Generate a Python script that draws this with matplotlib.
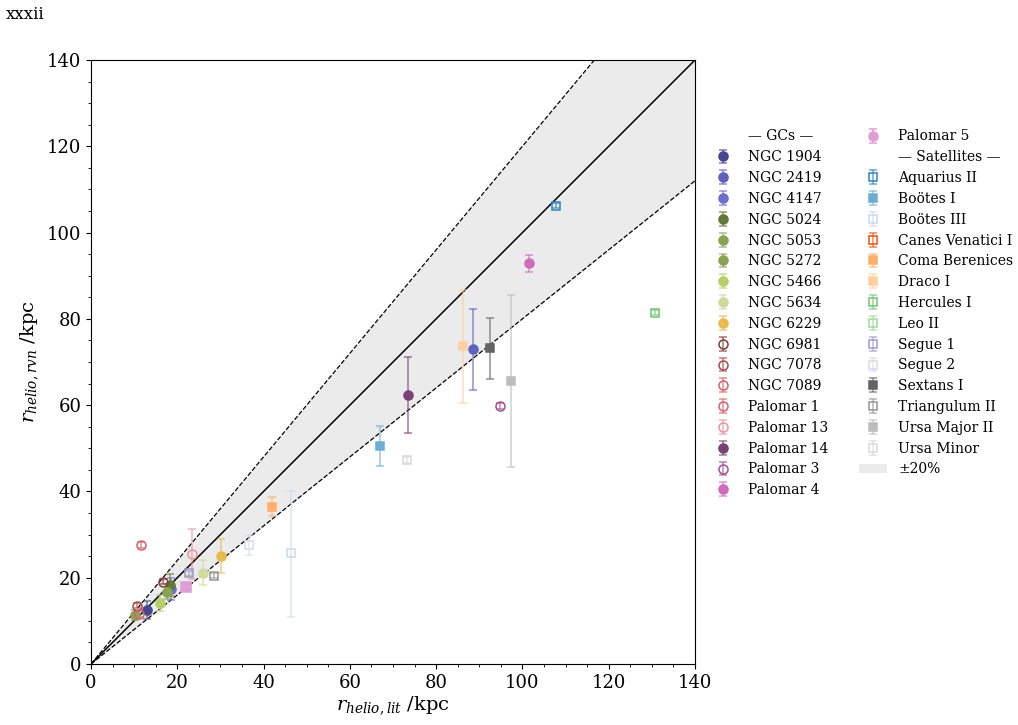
import matplotlib
matplotlib.use("Agg")
import matplotlib.pyplot as plt
import numpy as np
from matplotlib.lines import Line2D
from matplotlib.patches import Patch
from matplotlib.ticker import MultipleLocator

plt.rcParams['font.family'] = ['DejaVu Serif']
plt.rcParams['mathtext.fontset'] = 'dejavuserif'

# ---- Globular clusters ----
gc_names = ["NGC 1904", "NGC 2419", "NGC 4147", "NGC 5024", "NGC 5053", "NGC 5272",
            "NGC 5466", "NGC 5634", "NGC 6229", "NGC 6981", "NGC 7078", "NGC 7089",
            "Palomar 1", "Palomar 13", "Palomar 14", "Palomar 3", "Palomar 4", "Palomar 5"]
gc_lit = [13.0, 88.5, 18.6, 18.3, 17.5, 10.1, 16.0, 25.9, 30.1, 16.6, 10.7, 11.6,
          11.1, 23.3, 73.5, 94.8, 101.5, 22.0]
gc_rvn = [12.5, 73.0, 17.4, 18.3, 16.8, 11.3, 14.1, 21.2, 25.1, 19.1, 13.5, 27.6,
          11.6, 25.4, 62.4, 59.8, 92.9, 17.8]
gc_err = [2.1, 9.4, 2.5, 2.5, 1.8, 1.2, 1.8, 2.9, 3.9, 0.6, 0.6, 0.6,
          0.6, 5.8, 8.8, 0.6, 2.0, 0.6]
gc_colors = ["#44478f", "#5f61bf", "#6b6ecf", "#637939", "#8ca252", "#8ca252",
             "#b5cf6b", "#cedb9c", "#e7ba52", "#843c39", "#ad494a", "#d6616b",
             "#d6616b", "#e7969c", "#7b4173", "#a55194", "#ce6dbd", "#de9ed6"]
gc_filled = [True, True, True, True, True, True, True, True, True, False, False, False,
             False, False, True, False, True, True]

# ---- Satellites ----
sat_names = ["Aquarius II", "Boötes I", "Boötes III", "Canes Venatici I", "Coma Berenices",
             "Draco I", "Hercules I", "Leo II", "Segue 1", "Segue 2", "Sextans I",
             "Triangulum II", "Ursa Major II", "Ursa Minor"]
sat_lit = [107.8, 67.0, 46.4, 211.0, 42.0, 86.2, 130.7, 233.0, 22.8, 36.6, 92.5, 28.4, 97.4, 73.3]
sat_rvn = [106.2, 50.5, 25.7, 205.0, 36.5, 73.7, 81.4, 220.0, 21.0, 27.6, 73.2, 20.5, 65.6, 47.3]
sat_err_lo = [0.6, 4.6, 14.8, 1.0, 2.2, 13.1, 0.6, 1.0, 0.6, 2.3, 7.1, 0.6, 19.9, 0.6]
sat_err_hi = [0.6, 4.7, 14.4, 1.0, 2.2, 13.1, 0.6, 1.0, 0.6, 2.3, 7.0, 0.6, 19.9, 0.6]
sat_colors = ["#3182bd", "#6baed6", "#c6dbef", "#e6550d", "#fdae6b", "#fdd0a2",
              "#74c476", "#a1d99b", "#9e9ac8", "#dadaeb", "#636363", "#969696",
              "#bdbdbd", "#d9d9d9"]
sat_filled = [False, True, False, False, True, True, False, False, False, False, True,
              False, True, False]

fig = plt.figure(figsize=(10.18, 7.25), dpi=100)
ax = fig.add_axes([91/1018, 61/725, 604/1018, 604/725])

lim = 140
xx = np.array([0, lim])
ax.fill_between(xx, 0.8*xx, 1.2*xx, color="#ebebeb", zorder=0, lw=0)
ax.plot(xx, xx, color="black", lw=1.1, zorder=1)
ax.plot(xx, 1.2*xx, color="black", lw=0.9, ls="--", zorder=1)
ax.plot(xx, 0.8*xx, color="black", lw=0.9, ls="--", zorder=1)

handles = []
labels = []
blank = Line2D([], [], color='none', marker=None, lw=0)
handles.append(blank); labels.append("— GCs —")

ms = 6.5
for name, x, y, e, c, f in zip(gc_names, gc_lit, gc_rvn, gc_err, gc_colors, gc_filled):
    marker = 's' if name == "Palomar 5" else 'o'
    h = ax.errorbar([x], [y], yerr=[[e], [e]], fmt=marker, color=c, ms=ms,
                    mfc=c if f else 'none', mec=c, mew=1.1, ecolor=c, elinewidth=1.1,
                    capsize=3, capthick=1.1, zorder=3)
    for bar in h[2]:
        bar.set_alpha(0.7)
    for cap in h[1]:
        cap.set_alpha(0.7)
    if name == "Palomar 5":
        h = ax.errorbar([np.nan], [np.nan], yerr=[[1], [1]], fmt='o', color=c, ms=ms,
                        mfc=c, mec=c, mew=1.1, ecolor=c, elinewidth=1.1, capsize=3,
                        capthick=1.1)
    handles.append(h); labels.append(name)

handles.append(blank); labels.append("— Satellites —")
for name, x, y, el, eh, c, f in zip(sat_names, sat_lit, sat_rvn, sat_err_lo, sat_err_hi,
                                    sat_colors, sat_filled):
    h = ax.errorbar([x], [y], yerr=[[el], [eh]], fmt='s', color=c, ms=ms - 0.5,
                    mfc=c if f else 'none', mec=c, mew=1.1, ecolor=c, elinewidth=1.1,
                    capsize=3, capthick=1.1, zorder=3)
    for bar in h[2]:
        bar.set_alpha(0.7)
    for cap in h[1]:
        cap.set_alpha(0.7)
    handles.append(h); labels.append(name)

handles.append(Patch(facecolor="#ebebeb", edgecolor='none'))
labels.append("±20%")

ax.set_xlim(0, lim)
ax.set_ylim(0, lim)
ax.xaxis.set_major_locator(MultipleLocator(20))
ax.yaxis.set_major_locator(MultipleLocator(20))
ax.xaxis.set_minor_locator(MultipleLocator(5))
ax.yaxis.set_minor_locator(MultipleLocator(5))
ax.tick_params(labelsize=13)
ax.set_xlabel(r"$r_{helio,lit}$ /kpc", fontsize=14, labelpad=2)
ax.set_ylabel(r"$r_{helio,rvn}$ /kpc", fontsize=14, labelpad=4)

leg = fig.legend(handles, labels, ncol=2, loc="upper left",
                 bbox_to_anchor=(697/1018, 1 - 117/725), frameon=False,
                 fontsize=10, labelspacing=0.49, handlelength=2.0,
                 columnspacing=2.2, handletextpad=0.8)

fig.text(0.006, 0.992, "xxxii", fontsize=12, va="top", ha="left")

fig.savefig("out.png", dpi=100)
